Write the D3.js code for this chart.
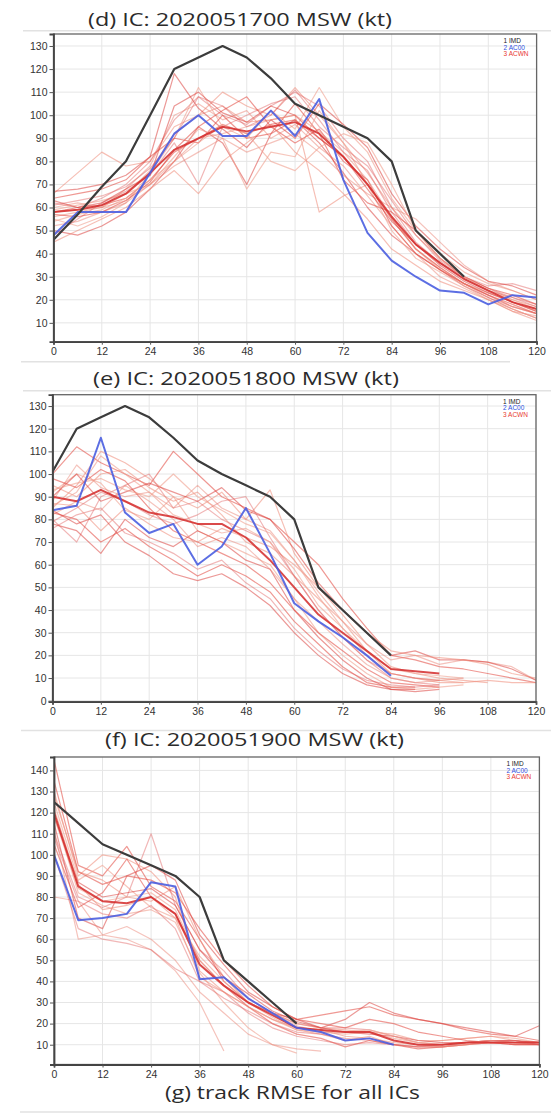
<!DOCTYPE html>
<html><head><meta charset="utf-8">
<script src="https://cdn.jsdelivr.net/npm/d3@7"></script>
<style>body{margin:0;background:#fff}svg{display:block}</style>
</head><body><svg id="c" width="551" height="1116"></svg>
<script>
// ---------------- DATA ----------------
const leadHours = [0,6,12,18,24,30,36,42,48,54,60,66,72,78,84,90,96,102,108,114,120];
const xTickLabels = [0,12,24,36,48,60,72,84,96,108,120];
const titles = ["(d) IC: 2020051700 MSW (kt)", "(e) IC: 2020051800 MSW (kt)", "(f) IC: 2020051900 MSW (kt)"];
const caption = "(g) track RMSE for all ICs";
const legendLabels = ["IMD", "AC00", "ACWN"];
const yTicksD = [10,20,30,40,50,60,70,80,90,100,110,120,130];
const yTicksE = [0,10,20,30,40,50,60,70,80,90,100,110,120,130];
const yTicksF = [10,20,30,40,50,60,70,80,90,100,110,120,130,140];

// panel (d) IC 2020051700
const imdD  = [46,57,69,80,100,120,125,130,125,116,105,100,95,90,80,50,40,30];
const ac00D = [48,58,58,58,75,92,100,91,91,102,91,107,72,49,37,30,24,23,18,22,21];
const meanD = [58,59,61,66,75,85,90,95,93,95,97,92,82,70,56,44,36,29,24,19,16];
const membersD = [
  [58,60,61,64,72,84,90,96,92,96,98,90,82,70,55,42,34,27,22,17,14],
  [66,75,84,78,80,95,100,110,104,100,112,100,88,75,60,48,38,30,25,20,17],
  [62,60,64,70,80,98,108,100,96,104,110,104,90,80,60,45,36,29,24,21,18],
  [55,52,56,62,75,90,112,95,90,102,94,112,95,84,64,50,40,32,27,24,20],
  [50,48,52,58,68,80,95,88,70,92,98,88,75,60,48,40,33,26,21,16,12],
  [60,62,60,68,78,100,105,98,102,90,96,86,78,65,52,40,30,25,20,15,13],
  [64,66,68,72,82,90,88,100,90,92,105,92,72,62,58,50,38,30,25,22,18],
  [56,58,60,66,76,92,100,104,97,98,100,58,65,70,55,42,33,27,23,19,15],
  [48,55,62,67,74,88,70,95,100,105,108,95,86,78,63,48,37,30,26,27,24],
  [59,61,63,66,70,82,94,90,68,84,82,102,88,70,50,38,32,26,20,16,12],
  [67,68,70,74,82,118,103,94,86,98,90,105,96,86,66,52,42,34,28,26,22],
  [52,54,58,62,70,78,84,90,84,88,92,84,74,66,60,55,45,35,28,24,20],
  [57,56,58,63,71,85,95,102,108,95,88,94,80,72,52,40,33,27,22,18,14],
  [45,50,55,60,68,76,66,80,88,96,84,76,66,55,42,35,28,24,20,15,11],
  [61,63,65,69,77,90,108,104,95,100,111,98,84,76,58,44,36,30,25,21,17],
  [54,57,59,64,72,80,88,96,92,80,76,86,92,88,70,50,38,30,24,20,16],
  [63,60,62,68,74,104,110,101,97,104,100,90,82,68,54,44,35,28,23,19,15],
  [58,59,60,63,70,80,90,92,95,98,100,93,84,72,56,42,34,27,21,17,14]
];

// panel (e) IC 2020051800
const imdE  = [101,120,125,130,125,116,106,100,95,90,80,50,40,30,20];
const ac00E = [84,86,116,83,74,78,60,68,85,65,43,35,28,20,11];
const meanE = [90,88,93,88,83,81,78,78,72,62,50,38,30,22,14,13,12];
const membersE = [
  [100,112,105,100,95,110,100,90,85,80,70,60,45,32,20,18,15,14,12,10,8],
  [85,95,110,105,98,90,85,92,80,93,65,50,38,25,15,12,10,9,8],
  [80,70,90,95,100,85,88,80,75,70,55,40,28,18,10,8,7],
  [92,100,96,84,80,90,75,70,65,60,45,30,20,12,6,5,6,7],
  [78,75,65,80,72,68,75,70,62,58,40,28,18,10,5,4,5],
  [88,104,94,90,92,85,95,85,80,75,62,48,35,25,18,20,16,18,17,15,9],
  [83,80,70,76,68,62,55,60,55,48,35,25,15,8,6,6],
  [95,90,100,102,94,88,92,82,70,65,55,45,35,22,12,10,8,8,9,8,8],
  [76,82,85,74,70,65,58,62,52,45,32,22,14,9,7,6,7],
  [86,92,108,100,92,82,78,74,76,70,58,42,32,20,12,10,9,8],
  [90,100,88,92,96,92,88,94,84,80,67,52,40,30,20,22,18,18,17,14,9],
  [82,88,84,95,88,80,68,72,68,58,45,35,25,16,10,8,9,10],
  [98,94,102,97,85,75,70,65,60,52,40,30,22,14,8,7,6],
  [87,86,75,85,78,72,70,76,72,68,60,50,40,30,22,20,19,18,16,12,10],
  [79,85,92,88,82,78,82,88,90,72,55,40,28,18,12,10,9],
  [93,96,98,93,90,100,90,84,78,74,62,46,32,22,14,12,11,10],
  [84,78,82,70,64,56,53,56,50,42,30,20,12,7,5,5]
];

// panel (f) IC 2020051900
const imdF  = [125,115,105,100,95,90,80,50,40,30,20];
const ac00F = [100,69,70,72,87,85,41,42,32,25,18,16,12,13,10];
const meanF = [120,85,78,77,80,72,48,38,30,24,18,17,16,16,12,10,10,11,11,11,11];
const membersF = [
  [145,95,90,104,85,78,60,40,30,25,22,24,26,28,24,22,20,17,15,14,12],
  [130,90,100,98,92,80,45,35,28,22,17,15,12,14,10,9,9,10,12,11,10],
  [110,80,75,80,110,76,55,45,32,25,20,18,18,17,14,11,10,11,12,12,10],
  [125,88,95,85,75,70,52,40,30,23,17,16,15,16,13,11,12,13,14,13,11],
  [115,70,65,90,95,88,62,48,35,28,22,18,22,30,25,22,20,18,16,14,19],
  [80,78,62,60,55,45,30,7],
  [105,75,82,98,80,72,50,38,28,20,15,13,9,12,10,8,9,10,11,10,10],
  [128,92,88,80,78,85,60,42,30,25,20,18,17,16,15,12,12,13,14,12,11],
  [100,65,60,58,55,46,40,35,25,18,14,12,10,11,10,9,9,11,12,11,10],
  [120,82,76,72,74,68,44,30,18,10,6],
  [118,87,80,82,84,76,55,42,34,26,21,18,16,15,14,12,11,11,12,12,11],
  [112,60,62,66,60,50,35,25,15,10,8,7],
  [135,92,86,90,88,82,65,50,38,28,22,20,18,22,20,16,14,12,11,10,10],
  [122,86,74,76,80,70,42,35,28,22,18,17,14,13,11,10,9,10,11,11,11],
  [108,78,72,70,76,65,40,32,26,20,16,15,13,12,10,9,10,11,12,12,10],
  [118,84,78,80,82,74,50,38,30,25,19,16,16,17,14,11,10,11,12,11,11]
];

// ---------------- LAYOUT ----------------
const panels = [
  {title: titles[0], imd: imdD, ac00: ac00D, mean: meanD, members: membersD, yTicks: yTicksD,
   left: 53.5, right: 536.6, top: 34, bottom: 341.7, yDom: [1.83, 135.2],
   tx: 240, ty: 26, tw: 304},
  {title: titles[1], imd: imdE, ac00: ac00E, mean: meanE, members: membersE, yTicks: yTicksE,
   left: 52.5, right: 536, top: 394.7, bottom: 701.7, yDom: [-0.44, 135.0],
   tx: 246, ty: 385, tw: 306},
  {title: titles[2], imd: imdF, ac00: ac00F, mean: meanF, members: membersF, yTicks: yTicksF,
   left: 54, right: 539.4, top: 757, bottom: 1064.5, yDom: [0.62, 146.35],
   tx: 254.5, ty: 746, tw: 299}
];

const svg = d3.select("#c");
svg.append("rect").attr("width", 551).attr("height", 1116).attr("fill", "#fff");

// faint figure separator lines
[[23, 551, 30.7], [21, 510, 361.7], [23, 551, 390.7], [21, 551, 730.5], [20, 551, 1112]].forEach(s => {
  svg.append("line").attr("x1", s[0]).attr("x2", s[1]).attr("y1", s[2]).attr("y2", s[2])
    .attr("stroke", "#e2e2e2").attr("stroke-width", 1.5);
});

const titleFont = "'Open Sans', 'Noto Sans', sans-serif";
const tickFont = "'Liberation Sans', Arial, sans-serif";

function fitText(sel, w) {
  sel.attr("textLength", w).attr("lengthAdjust", "spacingAndGlyphs");
}

const memberStyles = [
  {c: "#e2453c", o: 0.55}, {c: "#ee8a78", o: 0.55}, {c: "#e06060", o: 0.45},
  {c: "#f0a090", o: 0.6}, {c: "#d9342f", o: 0.5}, {c: "#e87a6a", o: 0.45}
];

panels.forEach((p, pi) => {
  const x = d3.scaleLinear().domain([0, 120]).range([p.left, p.right]);
  const y = d3.scaleLinear().domain(p.yDom).range([p.bottom, p.top]);
  const g = svg.append("g");

  // title
  const t = g.append("text").attr("x", p.tx).attr("y", p.ty).attr("text-anchor", "middle")
    .attr("font-family", titleFont).attr("font-size", 19).attr("fill", "#2b2b2b").text(p.title);
  fitText(t, p.tw);

  // grid
  g.append("g").selectAll("line").data(xTickLabels).join("line")
    .attr("x1", d => x(d)).attr("x2", d => x(d)).attr("y1", p.top).attr("y2", p.bottom)
    .attr("stroke", "#e6e6e6").attr("stroke-width", 1);
  g.append("g").selectAll("line").data(p.yTicks).join("line")
    .attr("x1", p.left).attr("x2", p.right).attr("y1", d => y(d)).attr("y2", d => y(d))
    .attr("stroke", "#e6e6e6").attr("stroke-width", 1);

  const clipId = "clip" + pi;
  svg.append("clipPath").attr("id", clipId).append("rect")
    .attr("x", p.left).attr("y", p.top).attr("width", p.right - p.left).attr("height", p.bottom - p.top);
  const plot = g.append("g").attr("clip-path", `url(#${clipId})`);

  const line = d3.line().x((d, i) => x(leadHours[i])).y(d => y(d));

  // ensemble members
  p.members.forEach((m, i) => {
    const st = memberStyles[i % memberStyles.length];
    plot.append("path").attr("d", line(m)).attr("fill", "none")
      .attr("stroke", st.c).attr("stroke-opacity", st.o).attr("stroke-width", 1.2)
      .attr("stroke-linejoin", "round");
  });
  // darker ensemble member
  plot.append("path").attr("d", line(p.mean)).attr("fill", "none")
    .attr("stroke", "#d42a2a").attr("stroke-opacity", 0.85).attr("stroke-width", 2)
    .attr("stroke-linejoin", "round");
  // AC00
  plot.append("path").attr("d", line(p.ac00)).attr("fill", "none")
    .attr("stroke", "#4a5ee0").attr("stroke-opacity", 0.9).attr("stroke-width", 2)
    .attr("stroke-linejoin", "round");
  // IMD
  plot.append("path").attr("d", line(p.imd)).attr("fill", "none")
    .attr("stroke", "#3c3c3c").attr("stroke-width", 2.2).attr("stroke-linejoin", "round");

  // frame
  g.append("rect").attr("x", p.left).attr("y", p.top).attr("width", p.right - p.left)
    .attr("height", p.bottom - p.top).attr("fill", "none").attr("stroke", "#666").attr("stroke-width", 1.3);

  // axes
  const ax = g.append("g").attr("transform", `translate(0,${p.bottom})`)
    .call(d3.axisBottom(x).tickValues(xTickLabels).tickSize(3).tickPadding(3));
  const ay = g.append("g").attr("transform", `translate(${p.left},0)`)
    .call(d3.axisLeft(y).tickValues(p.yTicks).tickSize(4).tickPadding(2));
  [ax, ay].forEach(a => {
    a.select(".domain").attr("stroke", "#444").attr("stroke-width", 1.8);
    a.selectAll(".tick line").attr("stroke", "#555");
    a.selectAll("text").attr("font-family", tickFont).attr("font-size", 10.5).attr("fill", "#333");
  });

  // legend
  const lg = g.append("g").attr("font-family", tickFont).attr("font-size", 6.5);
  const lcol = ["#222", "#2f4fe0", "#e8392f"];
  legendLabels.forEach((lab, i) => {
    lg.append("text").attr("x", p.right - 33).attr("y", p.top + 9 + i * 6.5)
      .attr("fill", lcol[i]).text((i + 1) + " " + lab);
  });
});

// caption
const cap = svg.append("text").attr("x", 292.5).attr("y", 1099).attr("text-anchor", "middle")
  .attr("font-family", titleFont).attr("font-size", 19).attr("fill", "#2b2b2b").text(caption);
fitText(cap, 255);
</script>
</body></html>
